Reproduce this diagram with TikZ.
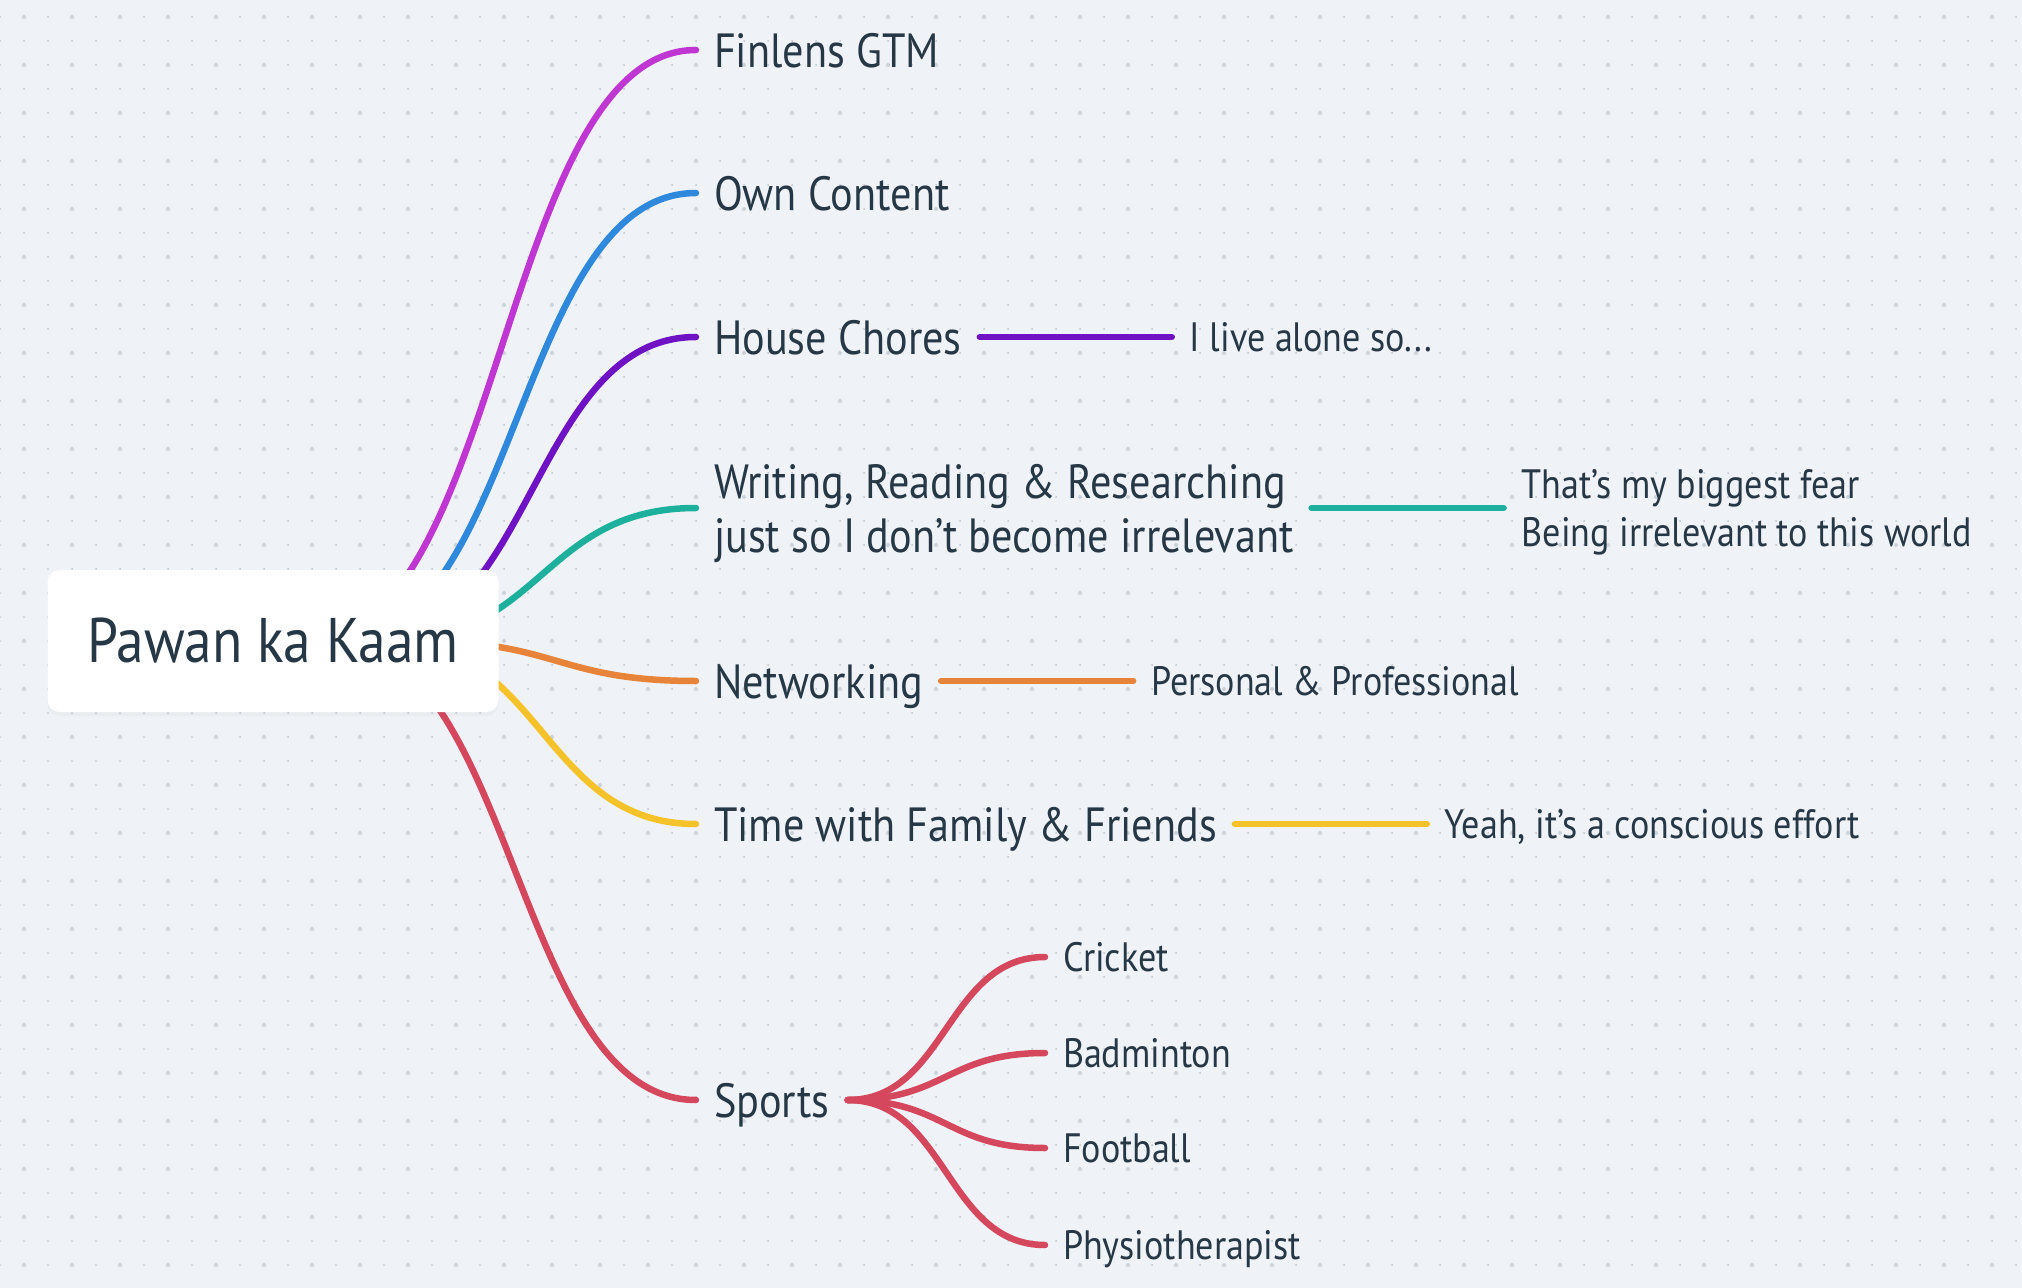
\documentclass[tikz,border=0pt]{standalone}
\usepackage{fontspec}
\setmainfont{PT Sans}[FakeStretch = 0.88]
\usetikzlibrary{positioning, calc, shadows}

\definecolor{paper}{HTML}{EFF3F7}
\definecolor{dotgray}{HTML}{B9C3CF}
\definecolor{dotlight}{HTML}{C9D1DB}
\definecolor{ink}{HTML}{263746}
\definecolor{cfin}{HTML}{BF36D3}
\definecolor{ccontent}{HTML}{2E88DB}
\definecolor{cchores}{HTML}{6E12C4}
\definecolor{cwriting}{HTML}{1DB09C}
\definecolor{cnetwork}{HTML}{E8843A}
\definecolor{cfamily}{HTML}{F6C229}
\definecolor{csports}{HTML}{D4475D}

\newcommand{\rootfont}{\fontsize{31.5pt}{36pt}\selectfont}
\newcommand{\branchfont}{\fontsize{24pt}{27pt}\selectfont}
\newcommand{\leaffont}{\fontsize{20.5pt}{24pt}\selectfont}

\pgfdeclarelayer{grid}
\pgfdeclarelayer{wires}
\pgfsetlayers{grid, wires, main}

\tikzset{
	rootbox/.style = {fill = white, rounded corners = 6pt, minimum width = 225.5pt, minimum height = 71pt, font = \rootfont, text = ink,
		drop shadow = {opacity = 0.05, shadow xshift = 0pt, shadow yshift = -2pt}},
	branch/.style = {font = \branchfont, text = ink, align = left, inner xsep = 0pt, inner ysep = 0pt, outer xsep = 9pt, text depth = 0pt},
	leaf/.style = {branch, font = \leaffont},
	wire/.style = {line width = 3.25pt, line cap = round},
	swoop/.style = {wire, to path = {let \p1 = (\tikztostart), \p2 = (\tikztotarget) in
		.. controls ({(\x1 + \x2) / 2}, \y1) and ({(\x1 + \x2) / 2}, \y2) .. (\tikztotarget)}}
}

\begin{document}
\begin{tikzpicture}[x = 0.5pt, y = -0.5pt]

	\useasboundingbox (0, 0) rectangle (2022, 1288);

	\begin{pgfonlayer}{grid}
		\fill [paper] (0, 0) rectangle (2022, 1288);
		\foreach \y in {17, 41, ..., 1288}
			\draw [dotgray, line width = 1pt, line cap = round, dash pattern = on 0pt off 12pt] (0, \y) -- (2022, \y);
		\foreach \y in {17, 65, ..., 1288}
			\draw [dotlight, line width = 2pt, line cap = round, dash pattern = on 0pt off 24pt] (24, \y) -- (2022, \y);
	\end{pgfonlayer}

	\node [rootbox] (root) at (273, 641) {Pawan ka Kaam};

	\node [branch, anchor = west] (finlens) at (696, 50) {Finlens GTM};
	\node [branch, anchor = west] (content) at (696, 193) {Own Content};
	\node [branch, anchor = west] (chores) at (696, 337) {House Chores};
	\node [branch, anchor = west] (writing) at (696, 508) {Writing, Reading \& Researching\\just so I don’t become irrelevant};
	\node [branch, anchor = west] (network) at (696, 681) {Networking};
	\node [branch, anchor = west] (family) at (696, 824) {Time with Family \& Friends};
	\node [branch, anchor = west] (sports) at (696, 1100) {Sports};

	\node [leaf, right = 96pt of chores] (alone) {I live alone so...};
	\node [leaf, right = 96pt of writing] (fear) {That’s my biggest fear\\Being irrelevant to this world};
	\node [leaf, right = 96pt of network] (circle) {Personal \& Professional};
	\node [leaf, right = 96pt of family] (effort) {Yeah, it’s a conscious effort};

	\node [leaf, anchor = west] (cricket) at (1045, 957) {Cricket};
	\node [leaf, anchor = west] (badminton) at (1045, 1053) {Badminton};
	\node [leaf, anchor = west] (football) at (1045, 1148) {Football};
	\node [leaf, anchor = west] (physio) at (1045, 1245) {Physiotherapist};

	\coordinate (s-fin) at (308, 641);
	\coordinate (s-content) at (339, 641);
	\coordinate (s-chores) at (369, 641);
	\coordinate (s-writing) at (388, 641);
	\coordinate (s-network) at (418, 641);
	\coordinate (s-family) at (389, 641);
	\coordinate (s-sports) at (334, 641);

	\begin{pgfonlayer}{wires}
		\foreach \from/\to/\col in {s-fin/finlens/cfin, s-content/content/ccontent, s-chores/chores/cchores, s-writing/writing/cwriting,
			s-network/network/cnetwork, s-family/family/cfamily, s-sports/sports/csports}
			\draw [swoop, \col] (\from) to (\to.west);

		\draw [wire, cchores] (chores.east) -- (alone.west);
		\draw [wire, cwriting] (writing.east) -- (fear.west);
		\draw [wire, cnetwork] (network.east) -- (circle.west);
		\draw [wire, cfamily] (family.east) -- (effort.west);

		\foreach \sport in {cricket, badminton, football, physio}
			\draw [swoop, csports] (sports.east) to (\sport.west);
	\end{pgfonlayer}

\end{tikzpicture}
\end{document}
